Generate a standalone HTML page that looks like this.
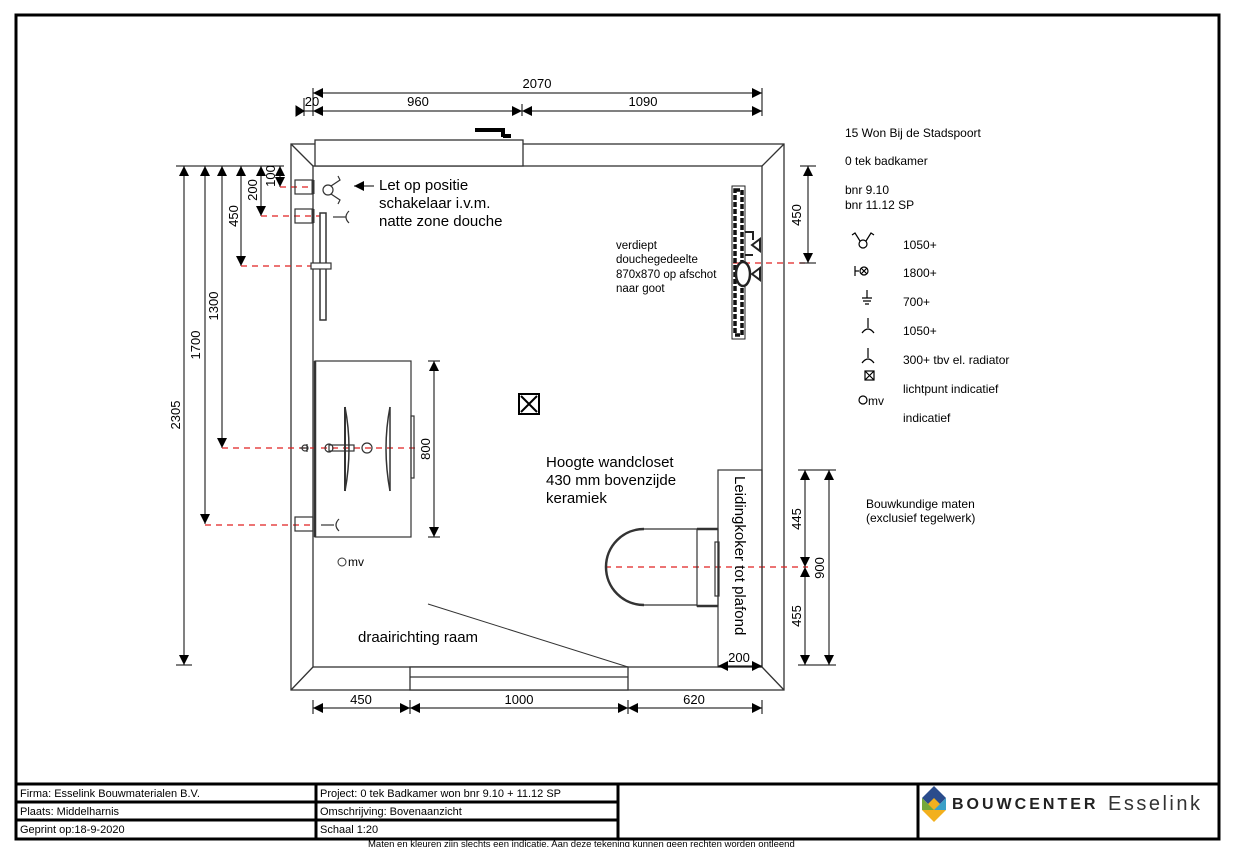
<!DOCTYPE html>
<html><head><meta charset="utf-8"><style>
html,body{margin:0;padding:0;background:#fff;}
svg{display:block;font-family:"Liberation Sans",Arial,sans-serif;}
</style></head><body>
<svg width="1240" height="847" viewBox="0 0 1240 847" xmlns="http://www.w3.org/2000/svg">
<defs>
<marker id="a" viewBox="0 0 10 10" refX="10" refY="5" markerWidth="10" markerHeight="10" markerUnits="userSpaceOnUse" orient="auto-start-reverse"><path d="M0,0L10,5L0,10z" fill="#000"/></marker>
</defs>
<rect width="1240" height="847" fill="#fff"/>
<rect x="16" y="15" width="1203" height="824" fill="none" stroke="#000" stroke-width="3"/>
<g stroke="#000" stroke-width="3" fill="none">
<line x1="16" y1="784" x2="1219" y2="784"/>
<line x1="16" y1="802" x2="618" y2="802"/>
<line x1="16" y1="820" x2="618" y2="820"/>
<line x1="316" y1="784" x2="316" y2="839"/>
<line x1="618" y1="784" x2="618" y2="839"/>
<line x1="918" y1="784" x2="918" y2="839"/>
</g>
<g font-size="11" fill="#000">
<text x="20" y="797">Firma: Esselink Bouwmaterialen B.V.</text>
<text x="20" y="815">Plaats: Middelharnis</text>
<text x="20" y="833">Geprint op:18-9-2020</text>
<text x="320" y="797">Project: 0 tek Badkamer won bnr 9.10 + 11.12 SP</text>
<text x="320" y="815">Omschrijving: Bovenaanzicht</text>
<text x="320" y="833">Schaal 1:20</text>
<text x="368" y="847" font-size="9.5">Maten en kleuren zijn slechts een indicatie. Aan deze tekening kunnen geen rechten worden ontleend</text>
</g>
<polygon points="934,786 946,798 934,810 922,798" fill="#2a4c8c"/>
<polygon points="934,798 946,810 934,822 922,810" fill="#f2b01e"/>
<polygon points="922,798 934,810 922,810" fill="#74a83a"/>
<polygon points="946,798 946,810 934,810" fill="#3aa0c8"/>
<text x="952" y="809" font-size="16" font-weight="bold" letter-spacing="3" fill="#222">BOUWCENTER</text>
<text x="1108" y="810" font-size="20" letter-spacing="2.5" fill="#333">Esselink</text>

<g stroke="#333" stroke-width="1.3" fill="none">
<rect x="291" y="144" width="493" height="546"/>
<rect x="313" y="166" width="449" height="501"/>
<line x1="291" y1="144" x2="313" y2="166"/>
<line x1="784" y1="144" x2="762" y2="166"/>
<line x1="784" y1="690" x2="762" y2="667"/>
<line x1="291" y1="690" x2="313" y2="667"/>
<rect x="315" y="140" width="208" height="26" fill="#fff"/>
<rect x="410" y="667" width="218" height="23" fill="#fff"/>
<line x1="410" y1="677" x2="628" y2="677"/>
<line x1="428" y1="604" x2="628" y2="667" stroke-width="1"/>
</g>
<path d="M475,130 H503 V137 M503,136 h8" stroke="#000" stroke-width="4" fill="none"/>

<g stroke="#000" stroke-width="1" fill="none">
<line x1="313" y1="88" x2="313" y2="116"/><line x1="304" y1="98" x2="304" y2="116"/>
<line x1="522" y1="104" x2="522" y2="116"/><line x1="762" y1="88" x2="762" y2="116"/>
<line x1="313" y1="93" x2="762" y2="93" marker-start="url(#a)" marker-end="url(#a)"/>
<line x1="313" y1="111" x2="522" y2="111" marker-start="url(#a)" marker-end="url(#a)"/>
<line x1="522" y1="111" x2="762" y2="111" marker-start="url(#a)" marker-end="url(#a)"/>
<line x1="313" y1="111" x2="304" y2="111"/>
<path d="M304,111 l-8,-5 v10z" fill="#000"/>
</g>
<g font-size="13" text-anchor="middle">
<text x="537" y="88">2070</text><text x="312" y="106">20</text>
<text x="418" y="106">960</text><text x="643" y="106">1090</text>
</g>
<g stroke="#000" stroke-width="1" fill="none">
<line x1="176" y1="166" x2="284" y2="166"/>
<line x1="184" y1="166" x2="184" y2="665" marker-start="url(#a)" marker-end="url(#a)"/>
<line x1="176" y1="665" x2="192" y2="665"/>
<line x1="205" y1="166" x2="205" y2="524" marker-start="url(#a)" marker-end="url(#a)"/>
<line x1="222" y1="166" x2="222" y2="448" marker-start="url(#a)" marker-end="url(#a)"/>
<line x1="241" y1="166" x2="241" y2="266" marker-start="url(#a)" marker-end="url(#a)"/>
<line x1="261" y1="166" x2="261" y2="216" marker-start="url(#a)" marker-end="url(#a)"/>
<line x1="280" y1="166" x2="280" y2="187" marker-start="url(#a)" marker-end="url(#a)"/>
</g>
<g font-size="13" text-anchor="middle">
<text transform="translate(180,415) rotate(-90)">2305</text>
<text transform="translate(200,345) rotate(-90)">1700</text>
<text transform="translate(218,306) rotate(-90)">1300</text>
<text transform="translate(238,216) rotate(-90)">450</text>
<text transform="translate(257,190) rotate(-90)">200</text>
<text transform="translate(275,176) rotate(-90)">100</text>
</g>
<g stroke="#e02020" stroke-width="1.2" stroke-dasharray="6,5" fill="none">
<line x1="280" y1="187" x2="314" y2="187"/>
<line x1="261" y1="216" x2="320" y2="216"/>
<line x1="241" y1="266" x2="330" y2="266"/>
<line x1="222" y1="448" x2="415" y2="448"/>
<line x1="205" y1="525" x2="315" y2="525"/>
<line x1="733" y1="263" x2="808" y2="263"/>
<line x1="605" y1="567" x2="808" y2="567"/>
</g>
<g stroke="#333" stroke-width="1.2" fill="none">
<rect x="295" y="180" width="18" height="14"/>
<rect x="295" y="209" width="18" height="14"/>
<rect x="295" y="517" width="18" height="14"/>
<line x1="313" y1="180" x2="313" y2="194" stroke-width="3"/>
<line x1="313" y1="209" x2="313" y2="223" stroke-width="3"/>
<circle cx="328" cy="190" r="5"/>
<path d="M331,186 l9,-6 l-2,-4 M331,194 l9,6 l-2,4"/>
<line x1="333" y1="217" x2="346" y2="217"/><path d="M349,211 q-6,6 0,12"/>
<line x1="321" y1="525" x2="334" y2="525"/><path d="M339,519 q-6,6 0,12"/>
<rect x="320" y="213" width="6" height="107" stroke-width="1.5"/>
<rect x="311" y="263" width="20" height="6" fill="#fff"/>
<line x1="307" y1="444" x2="307" y2="452"/><line x1="307" y1="448" x2="300" y2="448"/>
<circle cx="305" cy="448" r="3"/>
</g>
<text x="379" y="190" font-size="15">Let op positie</text>
<text x="379" y="208" font-size="15">schakelaar i.v.m.</text>
<text x="379" y="226" font-size="15">natte zone douche</text>
<line x1="374" y1="186" x2="354" y2="186" stroke="#000" stroke-width="1" marker-end="url(#a)"/>
<g stroke="#333" stroke-width="1.2" fill="none">
<rect x="315" y="361" width="96" height="176"/>
<line x1="315" y1="361" x2="315" y2="537" stroke-width="2.5"/>
<rect x="411" y="416" width="3" height="62"/>
<path d="M345,407 q8,41 0,84" stroke-width="1.5"/>
<line x1="345" y1="407" x2="345" y2="491" stroke-width="2"/>
<path d="M390,407 q-8,41 0,84" stroke-width="1.5"/>
<line x1="390" y1="407" x2="390" y2="491" stroke-width="1.5"/>
<circle cx="329" cy="448" r="4"/><circle cx="367" cy="448" r="5"/>
<rect x="329" y="445" width="25" height="6"/>
</g>
<line x1="434" y1="361" x2="434" y2="537" stroke="#000" marker-start="url(#a)" marker-end="url(#a)"/>
<line x1="428" y1="361" x2="440" y2="361" stroke="#000"/><line x1="428" y1="537" x2="440" y2="537" stroke="#000"/>
<text transform="translate(430,449) rotate(-90)" font-size="13" text-anchor="middle">800</text>
<circle cx="342" cy="562" r="4" fill="none" stroke="#333"/>
<text x="348" y="566" font-size="12">mv</text>
<rect x="519" y="394" width="20" height="20" fill="none" stroke="#000" stroke-width="2"/>
<path d="M521,396 L537,412 M537,396 L521,412" stroke="#000" stroke-width="2"/>
<g stroke="#222" fill="none">
<rect x="732" y="186" width="13" height="153" stroke-width="1"/>
<rect x="735" y="190" width="7" height="145" stroke-width="3.5" stroke-dasharray="5,2" stroke="#111"/>
<path d="M745,232 h8 v8 M745,255 h8 M752,245 l8,-6 v12 z M752,274 l8,-6 v12 z" stroke-width="2"/>
<ellipse cx="743" cy="274" rx="7" ry="12" stroke-width="2.5" fill="#fff"/>
</g>
<g font-size="11.5"><text x="616" y="249">verdiept</text><text x="616" y="263">douchegedeelte</text>
<text x="616" y="278">870x870 op afschot</text><text x="616" y="292">naar goot</text></g>
<line x1="808" y1="166" x2="808" y2="263" stroke="#000" marker-start="url(#a)" marker-end="url(#a)"/>
<line x1="800" y1="166" x2="816" y2="166" stroke="#000"/><line x1="800" y1="263" x2="816" y2="263" stroke="#000"/>
<text transform="translate(801,215) rotate(-90)" font-size="13" text-anchor="middle">450</text>
<g stroke="#333" stroke-width="1.2" fill="none">
<rect x="718" y="470" width="44" height="197"/>
<path d="M644,529 A38,38 0 0 0 644,605" stroke-width="2.5"/>
<line x1="644" y1="529" x2="697" y2="529"/><line x1="644" y1="605" x2="697" y2="605"/>
<rect x="697" y="529" width="21" height="77"/>
<line x1="697" y1="529" x2="718" y2="529" stroke-width="2.5"/><line x1="697" y1="606" x2="718" y2="606" stroke-width="2.5"/>
<rect x="715" y="542" width="4" height="54"/>
</g>
<text transform="translate(735,476) rotate(90)" font-size="15">Leidingkoker tot plafond</text>
<g font-size="15"><text x="546" y="467">Hoogte wandcloset</text><text x="546" y="485">430 mm bovenzijde</text><text x="546" y="503">keramiek</text></g>
<g stroke="#000" stroke-width="1" fill="none">
<line x1="798" y1="470" x2="836" y2="470"/><line x1="798" y1="665" x2="836" y2="665"/>
<line x1="805" y1="470" x2="805" y2="567" marker-start="url(#a)" marker-end="url(#a)"/>
<line x1="805" y1="567" x2="805" y2="665" marker-start="url(#a)" marker-end="url(#a)"/>
<line x1="829" y1="470" x2="829" y2="665" marker-start="url(#a)" marker-end="url(#a)"/>
<line x1="718" y1="666" x2="762" y2="666" marker-start="url(#a)" marker-end="url(#a)"/>
</g>
<g font-size="13" text-anchor="middle">
<text transform="translate(801,519) rotate(-90)">445</text>
<text transform="translate(801,616) rotate(-90)">455</text>
<text transform="translate(824,568) rotate(-90)">900</text>
<text x="739" y="662">200</text>
</g>
<g stroke="#000" stroke-width="1" fill="none">
<line x1="313" y1="700" x2="313" y2="714"/><line x1="410" y1="700" x2="410" y2="714"/>
<line x1="628" y1="700" x2="628" y2="714"/><line x1="762" y1="700" x2="762" y2="714"/>
<line x1="313" y1="708" x2="410" y2="708" marker-start="url(#a)" marker-end="url(#a)"/>
<line x1="410" y1="708" x2="628" y2="708" marker-start="url(#a)" marker-end="url(#a)"/>
<line x1="628" y1="708" x2="762" y2="708" marker-start="url(#a)" marker-end="url(#a)"/>
</g>
<g font-size="13" text-anchor="middle"><text x="361" y="704">450</text><text x="519" y="704">1000</text><text x="694" y="704">620</text></g>
<text x="358" y="642" font-size="15">draairichting raam</text>
<g font-size="12">
<text x="845" y="137">15 Won Bij de Stadspoort</text>
<text x="845" y="165">0 tek badkamer</text>
<text x="845" y="194">bnr 9.10</text>
<text x="845" y="209">bnr 11.12 SP</text>
<text x="903" y="249">1050+</text><text x="903" y="277">1800+</text>
<text x="903" y="306">700+</text><text x="903" y="335">1050+</text>
<text x="903" y="364">300+ tbv el. radiator</text>
<text x="903" y="393">lichtpunt indicatief</text>
<text x="903" y="422">indicatief</text>
<text x="868" y="405">mv</text>
</g>
<g stroke="#000" stroke-width="1.2" fill="none">
<circle cx="863" cy="244" r="4"/><path d="M860,241 l-5,-8 l-3,2 M866,241 l5,-8 l3,2"/>
<line x1="855" y1="266" x2="855" y2="276"/><line x1="855" y1="271" x2="859" y2="271"/>
<circle cx="864" cy="271" r="4"/><path d="M861,268 l6,6 M867,268 l-6,6"/>
<path d="M867,290 v8 M862,298 h10 M863,301 h8 M865,304 h4"/>
<path d="M868,318 v10 M862,333 q6,-8 12,0"/>
<path d="M868,348 v10 M862,363 q6,-8 12,0"/>
<rect x="865" y="371" width="9" height="9"/><path d="M865,371 l9,9 M874,371 l-9,9"/>
<circle cx="863" cy="400" r="4"/>
</g>
<g font-size="12"><text x="866" y="508">Bouwkundige maten</text><text x="866" y="522">(exclusief tegelwerk)</text></g>
</svg>
</body></html>
